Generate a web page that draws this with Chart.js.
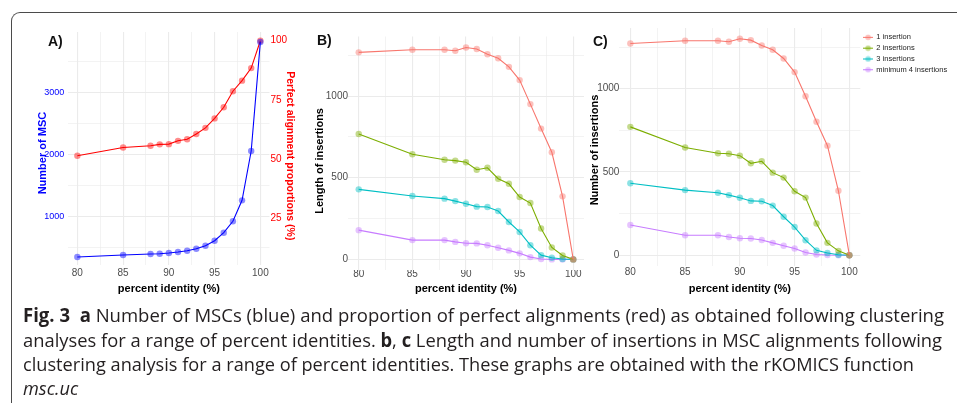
<!DOCTYPE html>
<html>
<head>
<meta charset="utf-8">
<script src="https://cdn.jsdelivr.net/npm/chart.js@4.4.0/dist/chart.umd.min.js"></script>
<style>
  body { margin: 0; width: 957px; height: 411px; background: #fff; position: relative; overflow: hidden; }
  .frame { position: absolute; left: 11px; top: 12px; width: 990px; height: 390px;
           border-left: 1.5px solid #4b4b4b; border-top: 1.5px solid #4b4b4b; border-top-left-radius: 9px; }
  canvas { position: absolute; }
  .tag { position: absolute; font: bold 14px/14px "Liberation Sans", Arial, sans-serif; color: #111; }
  .cap { position: absolute; left: 23px; white-space: nowrap; font: 19px/24px "Open Sans", sans-serif;
         color: #231f20; transform-origin: 0 0; }
</style>
</head>
<body>
<div class="frame"></div>

<canvas id="chartA" width="300" height="290" style="left:20px;top:14px"></canvas>
<canvas id="chartB" width="300" height="290" style="left:300px;top:14px"></canvas>
<canvas id="chartC" width="377" height="290" style="left:580px;top:14px"></canvas>

<div class="tag" style="left:48px;top:34px">A)</div>
<div class="tag" style="left:317px;top:33px">B)</div>
<div class="tag" style="left:593px;top:34px">C)</div>

<div class="cap" id="cap1" style="top:303px"><b>Fig. 3</b>&nbsp; <b>a</b> Number of MSCs (blue) and proportion of perfect alignments (red) as obtained following clustering</div>
<div class="cap" id="cap2" style="top:327.5px">analyses for a range of percent identities. <b>b</b>, <b>c</b> Length and number of insertions in MSC alignments following</div>
<div class="cap" id="cap3" style="top:352px">clustering analysis for a range of percent identities. These graphs are obtained with the rKOMICS function</div>
<div class="cap" id="cap4" style="top:376px"><i>msc.uc</i></div>

<script>
// percent identity used for every panel
var pctIdentity = [80, 85, 88, 89, 90, 91, 92, 93, 94, 95, 96, 97, 98, 99, 100];

// A) number of MSC (left axis) and perfect alignment proportion (right axis)
var mscCount = [350, 382, 398, 403, 415, 431, 452, 484, 532, 613, 742, 926, 1264, 2060, 3818];
var perfectAlign = [51.3, 54.8, 55.5, 56.1, 56.2, 57.6, 58.3, 60.5, 63.1, 67.1, 71.8, 78.6, 83.1, 88.4, 100];

// B) length of insertions
var len1 = [1268, 1284, 1284, 1278, 1298, 1288, 1256, 1232, 1179, 1098, 951, 801, 656, 386, 0];
var len2 = [768, 644, 610, 605, 595, 549, 561, 494, 463, 382, 345, 189, 73, 24, 0];
var len3 = [429, 388, 372, 357, 341, 323, 321, 296, 229, 168, 87, 26, 10, 2, 0];
var len4 = [179, 118, 118, 107, 99, 98, 87, 71, 55, 37, 14, 2, 0, 0, 0];

// C) number of insertions
var num1 = [1272, 1288, 1288, 1282, 1300, 1292, 1260, 1234, 1182, 1100, 955, 802, 658, 387, 0];
var num2 = [771, 647, 612, 609, 598, 552, 564, 496, 466, 384, 346, 190, 74, 26, 0];
var num3 = [432, 391, 375, 361, 345, 326, 324, 298, 231, 169, 90, 29, 13, 3, 0];
var num4 = [181, 120, 120, 109, 102, 100, 91, 74, 57, 40, 16, 4, 1, 0, 0];

var seriesNames = ['1 insertion', '2 insertions', '3 insertions', 'minimum 4 insertions'];
var seriesColors = ['#F8766D', '#7CAE00', '#00BFC4', '#C77CFF'];

var xTickLabels = [80, 85, 90, 95, 100];
var yTicksMSC = [1000, 2000, 3000];
var yTicksPerfect = [25, 50, 75, 100];
var yTicksIns = [0, 500, 1000];

Chart.defaults.font.family = '"Liberation Sans", Arial, sans-serif';

function withMinor(major) {
    var out = major.slice();
    var step = major[1] - major[0];
    out.unshift(major[0] - step / 2);
    for (var i = 0; i < major.length; i++) out.push(major[i] + step / 2);
    return out.sort(function (a, b) { return a - b; });
}

function alpha(hex, a) {
    var n = parseInt(hex.slice(1), 16);
    return 'rgba(' + (n >> 16) + ',' + ((n >> 8) & 255) + ',' + (n & 255) + ',' + a + ')';
}

function series(label, xs, ys, color, axis) {
    return {
        label: label,
        data: xs.map(function (x, i) { return { x: x, y: ys[i] }; }),
        yAxisID: axis || 'y',
        borderColor: color,
        borderWidth: 1.1,
        pointRadius: 3.2,
        pointBorderWidth: 0,
        pointBackgroundColor: alpha(color, 0.45),
        tension: 0
    };
}

function xAxis(height, tickPad, titlePad) {
    var grid = xTickLabels.slice();
    for (var i = 0; i < xTickLabels.length - 1; i++) grid.push((xTickLabels[i] + xTickLabels[i + 1]) / 2);
    return {
        type: 'linear', position: 'bottom', min: 79, max: 101,
        afterBuildTicks: function (s) { s.ticks = grid.sort(function (a, b) { return a - b; }).map(function (v) { return { value: v }; }); },
        afterFit: function (s) { s.height = height; },
        ticks: {
            autoSkip: false, maxRotation: 0, padding: tickPad, color: '#4d4d4d', font: { size: 10 },
            callback: function (v) { return xTickLabels.indexOf(v) >= 0 ? v : ''; }
        },
        grid: {
            drawTicks: false, color: '#ebebeb',
            lineWidth: function (c) { return c.tick && xTickLabels.indexOf(c.tick.value) >= 0 ? 1.1 : 0.6; }
        },
        border: { display: false },
        title: { display: true, text: 'percent identity (%)', color: '#000', font: { size: 11, weight: 'bold' }, padding: { top: 0, bottom: titlePad } }
    };
}

// the y titles sit a little below the panel centre in the figure; padding spaces shift them
function yAxis(opts) {
    var ticks = withMinor(opts.labels);
    return {
        type: 'linear', position: opts.position, min: opts.min, max: opts.max,
        afterBuildTicks: function (s) {
            s.ticks = (opts.withGrid ? ticks : opts.labels)
                .filter(function (v) { return v > opts.min && v < opts.max; })
                .map(function (v) { return { value: v }; });
        },
        afterFit: function (s) { s.width = opts.width; },
        ticks: {
            padding: opts.tickPad, color: opts.color, font: { size: opts.fontSize || 10 },
            callback: function (v) { return opts.labels.indexOf(v) >= 0 ? v : ''; }
        },
        grid: {
            display: !!opts.withGrid, drawTicks: false, color: '#ebebeb',
            lineWidth: function (c) { return c.tick && opts.labels.indexOf(c.tick.value) >= 0 ? 1.1 : 0.6; }
        },
        border: { display: false },
        title: { display: true, text: opts.title, color: opts.titleColor, font: { size: opts.titleSize || 11, weight: 'bold' },
                 padding: { top: opts.titlePad, bottom: 0 } }
    };
}

var common = { responsive: false, animation: false, devicePixelRatio: 1 };

// A)
new Chart(document.getElementById('chartA'), {
    type: 'line',
    data: {
        datasets: [
            series('Number of MSC', pctIdentity, mscCount, '#0000FF', 'y'),
            series('Perfect alignment proportions (%)', pctIdentity, perfectAlign, '#FF0000', 'y2')
        ]
    },
    options: Object.assign({}, common, {
        layout: { padding: { top: 18, left: 0, right: 0, bottom: 0 } },
        plugins: { legend: { display: false }, tooltip: { enabled: false } },
        scales: {
            x: xAxis(39, 2, 8.4),
            y: yAxis({ position: 'left', min: 221, max: 3979, labels: yTicksMSC, withGrid: true, width: 48.2, tickPad: 4,
                       fontSize: 9, color: '#0000FF', title: 'Number of MSC   ', titleColor: '#0000FF', titlePad: 16 }),
            y2: yAxis({ position: 'right', min: 5, max: 103.7, labels: yTicksPerfect, withGrid: false, width: 50.5, tickPad: 1,
                        color: '#FF0000', title: '     Perfect alignment proportions (%)', titleColor: '#FF0000', titleSize: 10.5, titlePad: 23.4 })
        }
    })
});

// B)
new Chart(document.getElementById('chartB'), {
    type: 'line',
    data: {
        datasets: [len1, len2, len3, len4].map(function (d, i) {
            return series(seriesNames[i], pctIdentity, d, seriesColors[i]);
        })
    },
    options: Object.assign({}, common, {
        layout: { padding: { top: 22.5, left: 0, right: 16, bottom: 0 } },
        plugins: { legend: { display: false }, tooltip: { enabled: false } },
        scales: {
            x: xAxis(34, -1.7, 8.4),
            y: yAxis({ position: 'left', min: -65, max: 1365, labels: yTicksIns, withGrid: true, width: 48, tickPad: 0,
                       color: '#4d4d4d', title: 'Length of insertions     ', titleColor: '#000', titlePad: 13.4 })
        }
    })
});

// legend keys: a short line with a point, like the ggplot keys
function legendKey(color) {
    var c = document.createElement('canvas');
    c.width = 10; c.height = 7;
    var g = c.getContext('2d');
    g.strokeStyle = color; g.lineWidth = 1;
    g.beginPath(); g.moveTo(0, 3.5); g.lineTo(10, 3.5); g.stroke();
    g.fillStyle = alpha(color, 0.45);
    g.beginPath(); g.arc(5, 3.5, 2.8, 0, Math.PI * 2); g.fill();
    return c;
}

// C)
new Chart(document.getElementById('chartC'), {
    type: 'line',
    data: {
        datasets: [num1, num2, num3, num4].map(function (d, i) {
            return series(seriesNames[i], pctIdentity, d, seriesColors[i]);
        })
    },
    options: Object.assign({}, common, {
        layout: { padding: { top: 14, left: 0, right: 1.7, bottom: 0 } },
        plugins: {
            tooltip: { enabled: false },
            legend: {
                position: 'right', align: 'start', maxWidth: 95,
                title: { display: true, text: '', font: { size: 1 }, padding: { top: 0, bottom: 1.1 } },
                labels: {
                    usePointStyle: true, pointStyleWidth: 9, padding: 3.3, color: '#222', font: { size: 7.5 },
                    generateLabels: function (chart) {
                        return chart.data.datasets.map(function (ds, i) {
                            return { text: ds.label, pointStyle: legendKey(seriesColors[i]), fillStyle: 'rgba(0,0,0,0)',
                                     strokeStyle: 'rgba(0,0,0,0)', lineWidth: 0, datasetIndex: i, fontColor: '#222' };
                        });
                    }
                }
            }
        },
        scales: {
            x: xAxis(38, 0.7, 8.4),
            y: yAxis({ position: 'left', min: -65, max: 1365, labels: yTicksIns, withGrid: true, width: 39.4, tickPad: 0,
                       color: '#4d4d4d', title: 'Number of insertions  ', titleColor: '#000', titlePad: 8.4 })
        }
    })
});

// fit caption lines to the width they take in the figure
var capWidths = { cap1: 921, cap2: 919, cap3: 891 };
var lastScale = 1;
['cap1', 'cap2', 'cap3', 'cap4'].forEach(function (id) {
    var el = document.getElementById(id);
    var w = el.getBoundingClientRect().width;
    var s = capWidths[id] ? capWidths[id] / w : lastScale;
    lastScale = s;
    el.style.transform = 'scaleX(' + s + ')';
});
</script>
</body>
</html>
